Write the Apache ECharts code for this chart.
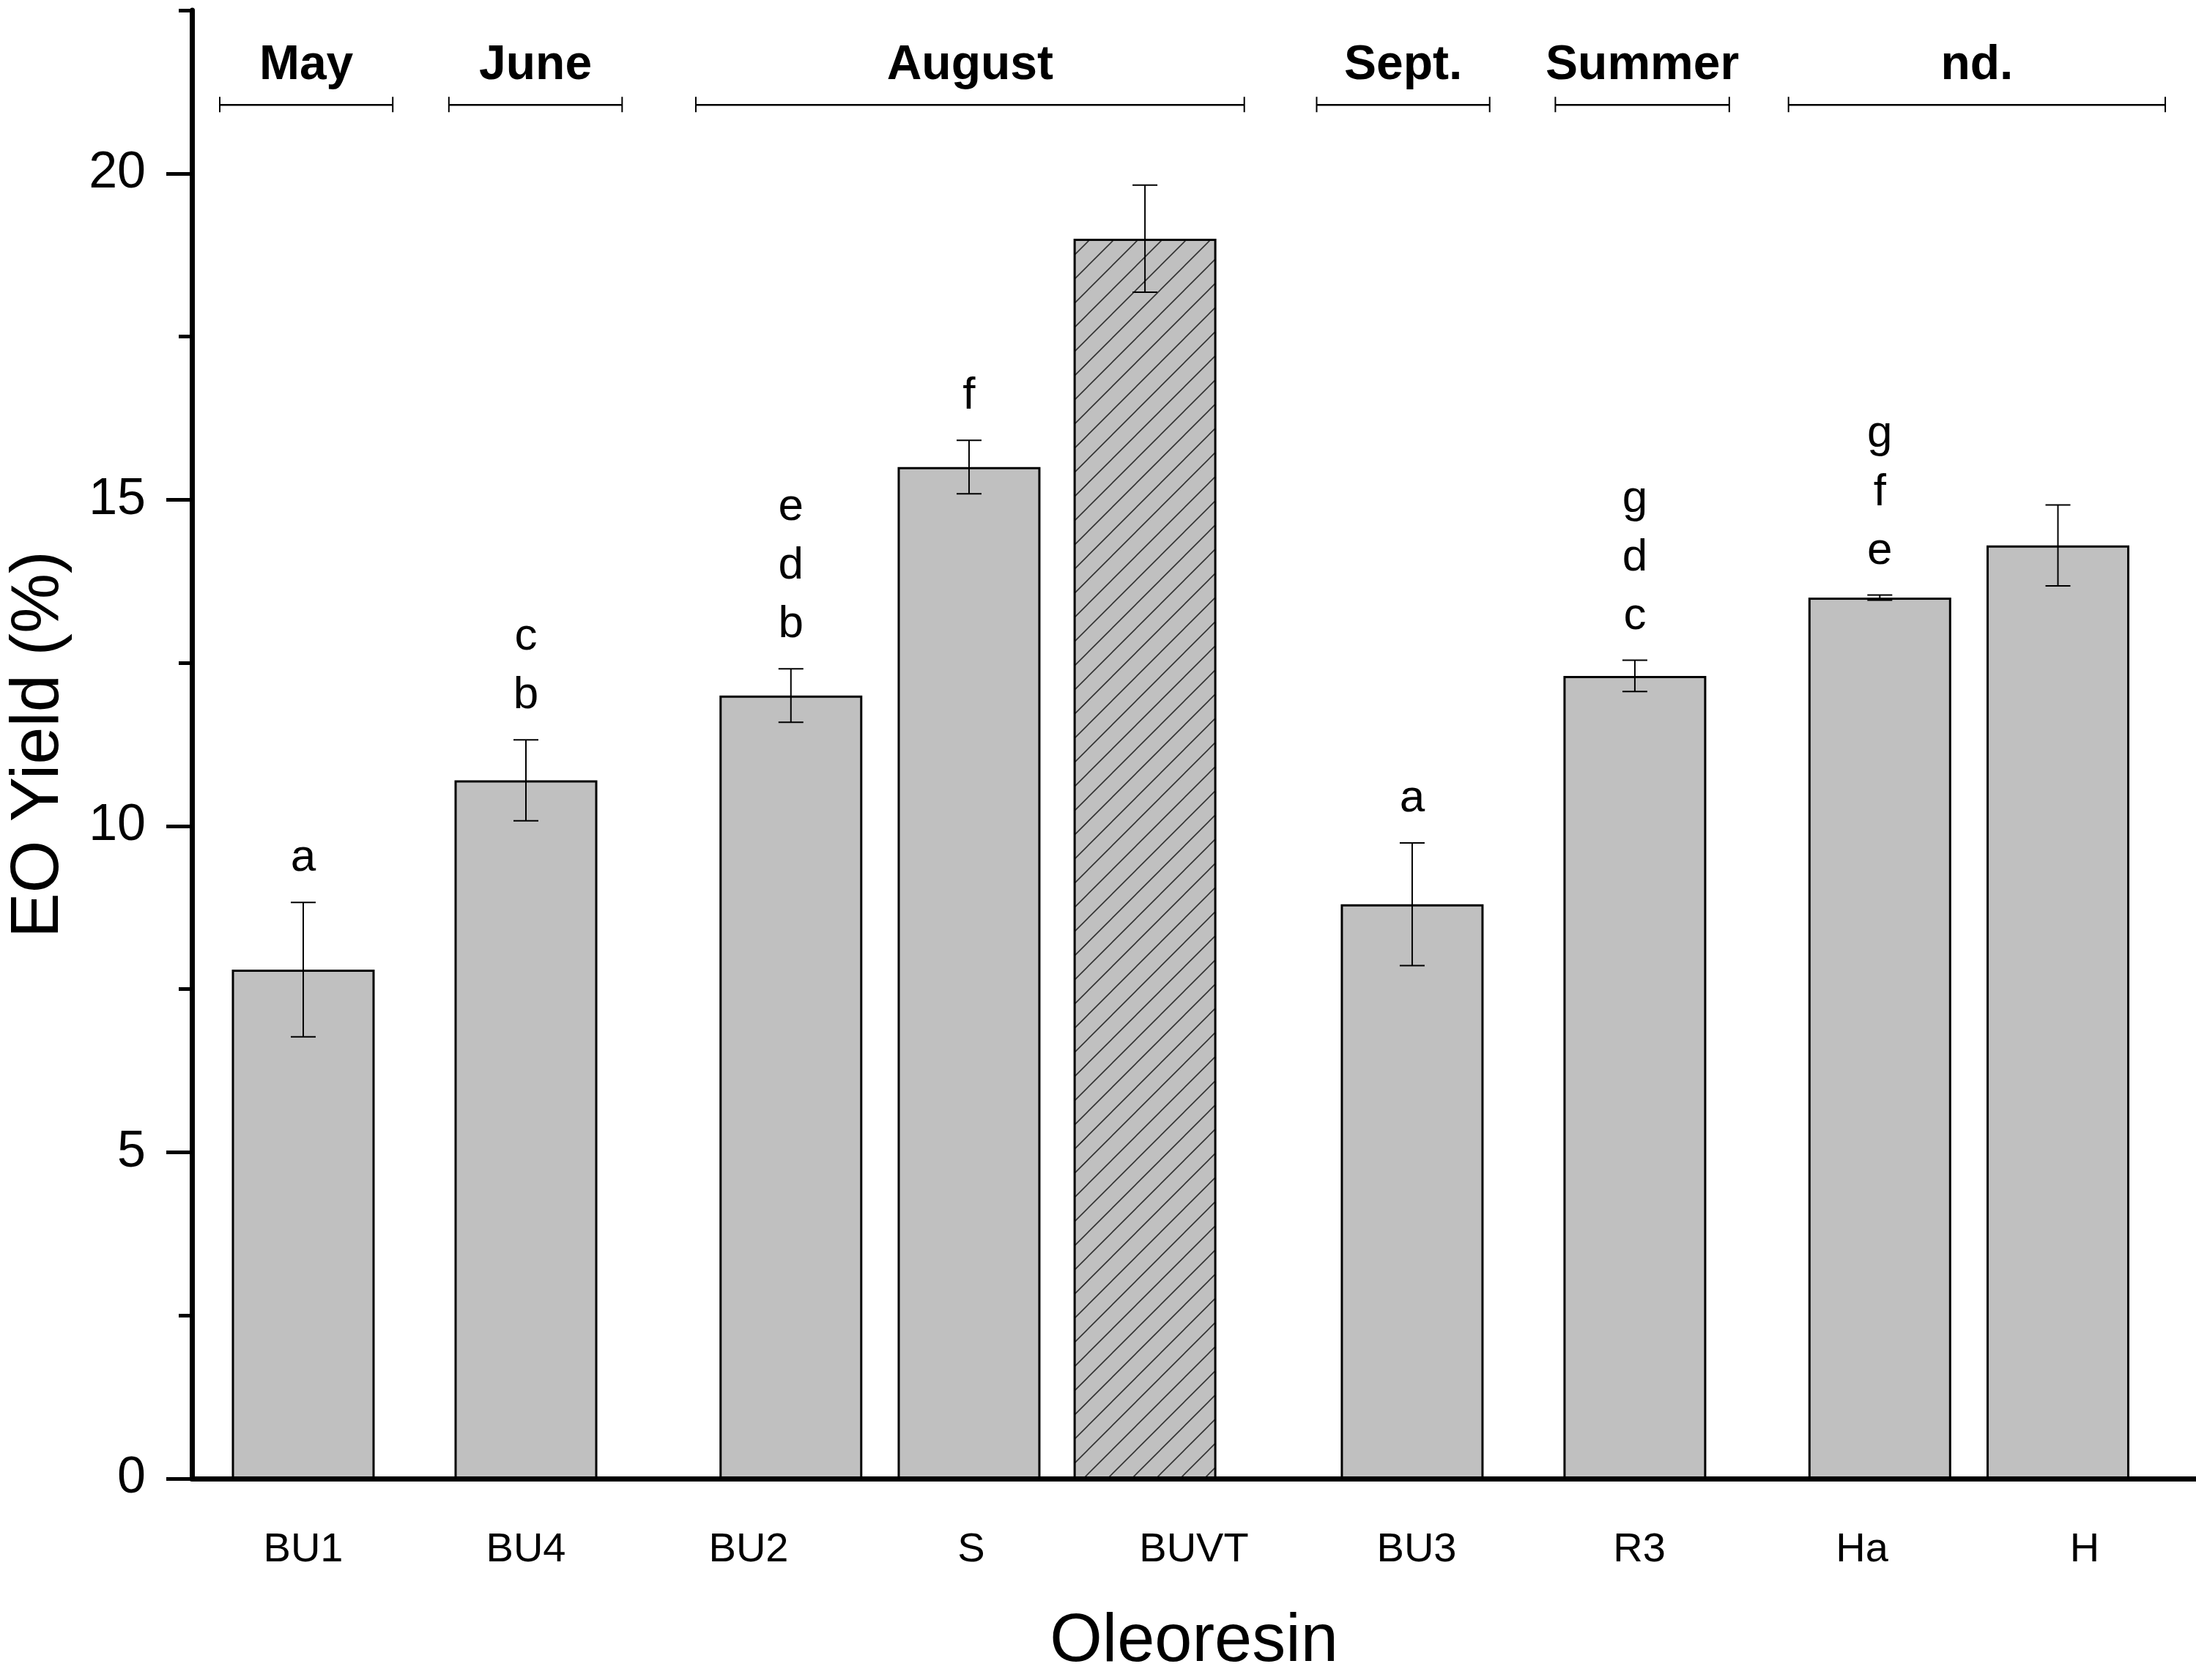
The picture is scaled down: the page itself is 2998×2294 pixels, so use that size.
<!DOCTYPE html>
<html>
<head>
    <meta charset="utf-8">
    <title>EO Yield</title>
    <script src="https://cdn.jsdelivr.net/npm/echarts@6/dist/echarts.min.js"></script>
    <style>
        html, body { margin: 0; padding: 0; background: #fff; overflow: hidden; }
        #chart { width: 100vw; height: 100vh; }
    </style>
</head>
<body>
<div id="chart"></div>
<script>
    // oleoresin samples, in the order of the x axis
    var oleoresins = ["BU1", "BU4", "BU2", "S", "BUVT", "BU3", "R3", "Ha", "H"];
    // where each bar sits along the axis (1 unit = one label slot)
    var barPos = [0.50, 1.50, 2.69, 3.49, 4.28, 5.48, 6.48, 7.58, 8.38];
    var yieldMean = [7.8, 10.7, 12.0, 15.5, 19.0, 8.8, 12.3, 13.5, 14.3];
    var yieldSd = [1.03, 0.62, 0.41, 0.41, 0.82, 0.94, 0.24, 0.04, 0.62];
    // significance letters, top to bottom
    var letters = [["a"], ["c", "b"], ["e", "d", "b"], ["f"], [], ["a"], ["g", "d", "c"], ["g", "f", "e"], []];
    var hatched = "BUVT";

    // harvest period brackets
    var periods = ["May", "June", "August", "Sept.", "Summer", "nd."];
    var periodFrom = [0.125, 1.154, 2.263, 5.051, 6.123, 7.17];
    var periodTo = [0.902, 1.932, 4.726, 5.828, 6.904, 8.862];

    var yMajor = [0, 5, 10, 15, 20];
    var yMinor = [2.5, 7.5, 12.5, 17.5, 22.5];

    var FONT = '"Liberation Sans", Arial, sans-serif';
    var bracketLevel = 21.05;

    // the layout was measured on a 2998 x 2294 page
    var el = document.getElementById("chart");
    var sx = el.clientWidth / 2998, sy = el.clientHeight / 2294, sf = Math.min(sx, sy);

    function hatchPattern() {
        var s = Math.round(33 * sf), c = document.createElement("canvas");
        c.width = s; c.height = s;
        var g = c.getContext("2d");
        g.fillStyle = "#c0c0c0";
        g.fillRect(0, 0, s, s);
        g.strokeStyle = "#333";
        g.lineWidth = 1.6 * sf;
        g.beginPath();
        for (var k = 0; k <= 2; k++) {
            g.moveTo(-s, k * s + s);
            g.lineTo(k * s + s, -s);
        }
        g.stroke();
        return c;
    }

    function renderErr(params, api) {
        var x = api.value(0),
            lo = api.coord([x, api.value(1)]),
            hi = api.coord([x, api.value(2)]),
            w = 17 * sx, st = { stroke: "#000", lineWidth: 2 * sf };
        return {
            type: "group",
            children: [
                { type: "line", shape: { x1: lo[0], y1: lo[1], x2: hi[0], y2: hi[1] }, style: st },
                { type: "line", shape: { x1: hi[0] - w, y1: hi[1], x2: hi[0] + w, y2: hi[1] }, style: st },
                { type: "line", shape: { x1: lo[0] - w, y1: lo[1], x2: lo[0] + w, y2: lo[1] }, style: st }
            ]
        };
    }

    function renderLetters(params, api) {
        var txt = letters[params.dataIndex].join("\n");
        if (!txt) return null;
        var p = api.coord([api.value(0), api.value(1)]);
        return {
            type: "text",
            x: p[0],
            y: p[1] - 20 * sy,
            style: {
                text: txt, fill: "#000", font: Math.round(62 * sf) + "px " + FONT, lineHeight: 80 * sf,
                align: "center", verticalAlign: "bottom"
            }
        };
    }

    function renderBracket(params, api) {
        var a = api.coord([api.value(0), api.value(2)]),
            b = api.coord([api.value(1), api.value(2)]),
            st = { stroke: "#000", lineWidth: 2.5 * sf },
            cap = { stroke: "#000", lineWidth: 2 * sf };
        return {
            type: "group",
            children: [
                { type: "line", shape: { x1: a[0], y1: a[1], x2: b[0], y2: b[1] }, style: st },
                { type: "line", shape: { x1: a[0], y1: a[1] - 11 * sy, x2: a[0], y2: a[1] + 10 * sy }, style: cap },
                { type: "line", shape: { x1: b[0], y1: b[1] - 11 * sy, x2: b[0], y2: b[1] + 10 * sy }, style: cap },
                {
                    type: "text", x: (a[0] + b[0]) / 2, y: a[1] - 20 * sy,
                    style: {
                        text: periods[params.dataIndex], fill: "#000", font: "bold " + Math.round(66 * sf) + "px " + FONT,
                        align: "center", verticalAlign: "bottom"
                    }
                }
            ]
        };
    }

    function getOption() {
        var pattern = hatchPattern();
        var bars = [], errs = [], tops = [], brackets = [];
        for (var i = 0; i < oleoresins.length; i++) {
            var item = { value: [barPos[i], yieldMean[i]] };
            if (oleoresins[i] == hatched) item.itemStyle = { color: { image: pattern, repeat: "repeat" } };
            bars.push(item);
            errs.push([barPos[i], yieldMean[i] - yieldSd[i], yieldMean[i] + yieldSd[i]]);
            tops.push([barPos[i], yieldMean[i] + yieldSd[i]]);
        }
        for (var j = 0; j < periods.length; j++) brackets.push([periodFrom[j], periodTo[j], bracketLevel]);

        return {
            animation: false,
            backgroundColor: "#fff",
            grid: { left: 254 * sx, right: 0, top: 14 * sy, bottom: 262 * sy },
            xAxis: [{
                type: "category",
                data: oleoresins,
                name: "Oleoresin",
                nameLocation: "middle",
                nameGap: 178 * sy,
                nameTextStyle: { fontFamily: FONT, fontSize: 92 * sf, color: "#000" },
                axisLine: { lineStyle: { color: "#000", width: 7 * sf } },
                axisTick: { alignWithLabel: true, length: 31 * sy, lineStyle: { color: "#000", width: 5 * sf } },
                axisLabel: { interval: 0, margin: 70 * sy, fontFamily: FONT, fontSize: 56 * sf, color: "#000" },
                splitLine: { show: false }
            }, {
                type: "value", min: 0, max: 9, show: false
            }],
            yAxis: [{
                type: "value",
                min: 0,
                max: 22.5,
                position: "left",
                name: "EO Yield (%)",
                nameLocation: "middle",
                nameGap: 162 * sx,
                nameTextStyle: { fontFamily: FONT, fontSize: 92 * sf, color: "#000" },
                axisLine: { show: true, lineStyle: { color: "#000", width: 7 * sf } },
                axisTick: { show: true, length: 35 * sx, customValues: yMajor, lineStyle: { color: "#000", width: 5 * sf } },
                axisLabel: { customValues: yMajor, margin: 63 * sx, fontFamily: FONT, fontSize: 70 * sf, color: "#000" },
                splitLine: { show: false }
            }, {
                type: "value",
                min: 0,
                max: 22.5,
                position: "left",
                axisLine: { show: false },
                axisTick: { show: true, length: 18 * sx, customValues: yMinor, lineStyle: { color: "#000", width: 5 * sf } },
                axisLabel: { show: false },
                splitLine: { show: false }
            }],
            series: [{
                type: "bar",
                xAxisIndex: 1,
                yAxisIndex: 0,
                barWidth: 195 * sx,
                itemStyle: { color: "#c0c0c0", borderColor: "#000", borderWidth: 3 * sf },
                data: bars,
                z: 2
            }, {
                type: "custom",
                xAxisIndex: 1,
                yAxisIndex: 0,
                renderItem: renderErr,
                encode: { x: 0, y: [1, 2] },
                data: errs,
                z: 5
            }, {
                type: "custom",
                xAxisIndex: 1,
                yAxisIndex: 0,
                renderItem: renderLetters,
                encode: { x: 0, y: 1 },
                data: tops,
                z: 5
            }, {
                type: "custom",
                xAxisIndex: 1,
                yAxisIndex: 0,
                renderItem: renderBracket,
                encode: { x: [0, 1], y: 2 },
                data: brackets,
                z: 5
            }]
        };
    }

    var chart = echarts.init(el);
    chart.setOption(getOption());
</script>
</body>
</html>
